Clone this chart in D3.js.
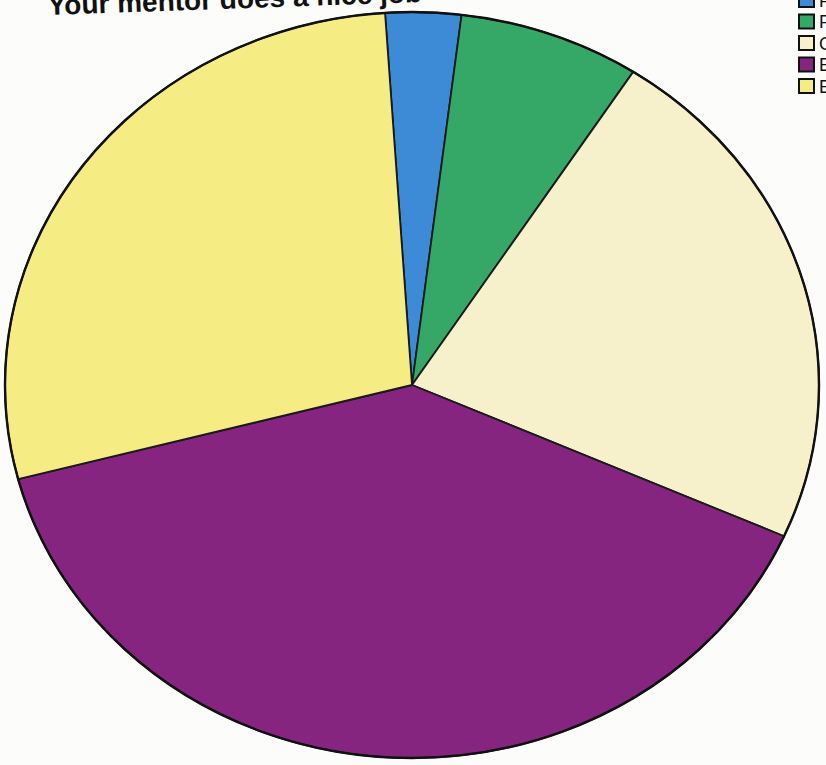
<!DOCTYPE html>
<html>
<head>
<meta charset="utf-8">
<script src="https://cdn.jsdelivr.net/npm/d3@7"></script>
<style>
  html, body { margin: 0; padding: 0; background: #fcfcfa; }
  svg { display: block; }
</style>
</head>
<body>
<svg id="chart" width="826" height="765"></svg>
<script>
// Data (in drawing order clockwise from the top)
const categories = ["Poor", "Fair", "Good", "Excellent", "Exceptional"];
const values = [3.0, 7.2, 22.5, 39.3, 28.0];
const colors = ["#3d8ad6", "#35a766", "#f6f0cb", "#86257f", "#f6ec84"];
const titleText = "Your mentor does a nice job";

const svg = d3.select("#chart");
const cx = 412, cy = 385, rx = 407, ry = 373;
const startDeg = -3.8;

const pie = d3.pie().sort(null).value(d => d.value)
  .startAngle(startDeg * Math.PI / 180)
  .endAngle((startDeg + 360) * Math.PI / 180);
const data = categories.map((c, i) => ({ name: c, value: values[i], color: colors[i] }));
const arcs = pie(data);
const arc = d3.arc().innerRadius(0).outerRadius(rx);

// Title (tilted, as in the photo, partly cut by the top edge)
svg.append("text")
  .attr("x", 48).attr("y", 15)
  .attr("transform", "rotate(-2, 48, 15)")
  .attr("font-family", "'Liberation Sans', Arial, sans-serif")
  .attr("font-weight", "bold")
  .attr("font-size", 28)
  .attr("fill", "#111")
  .text(titleText);

const g = svg.append("g")
  .attr("transform", `translate(${cx},${cy}) scale(1, ${ry / rx})`);

g.selectAll("path.slice")
  .data(arcs)
  .join("path")
  .attr("class", "slice")
  .attr("d", arc)
  .attr("fill", d => d.data.color)
  .attr("stroke", "#1a1a1a")
  .attr("stroke-width", 1.8)
  .attr("stroke-linejoin", "round")
  .attr("vector-effect", "non-scaling-stroke");

g.append("ellipse")
  .attr("cx", 0).attr("cy", 0).attr("rx", rx).attr("ry", rx)
  .attr("fill", "none")
  .attr("stroke", "#111")
  .attr("stroke-width", 2.4)
  .attr("vector-effect", "non-scaling-stroke");

// Legend (cut by the right edge)
const legendY = d3.scalePoint().domain(categories).range([0, 86]);
const lg = svg.append("g");
const items = lg.selectAll("g.item").data(data).join("g")
  .attr("class", "item")
  .attr("transform", d => `translate(799, ${legendY(d.name)})`);
items.append("rect")
  .attr("x", 0).attr("y", -7).attr("width", 15).attr("height", 14)
  .attr("fill", d => d.color)
  .attr("stroke", "#111").attr("stroke-width", 2);
items.append("text")
  .attr("x", 20).attr("y", 6.5)
  .attr("font-family", "'Liberation Sans', Arial, sans-serif")
  .attr("font-size", 18)
  .attr("fill", "#111")
  .text(d => d.name);
</script>
</body>
</html>
